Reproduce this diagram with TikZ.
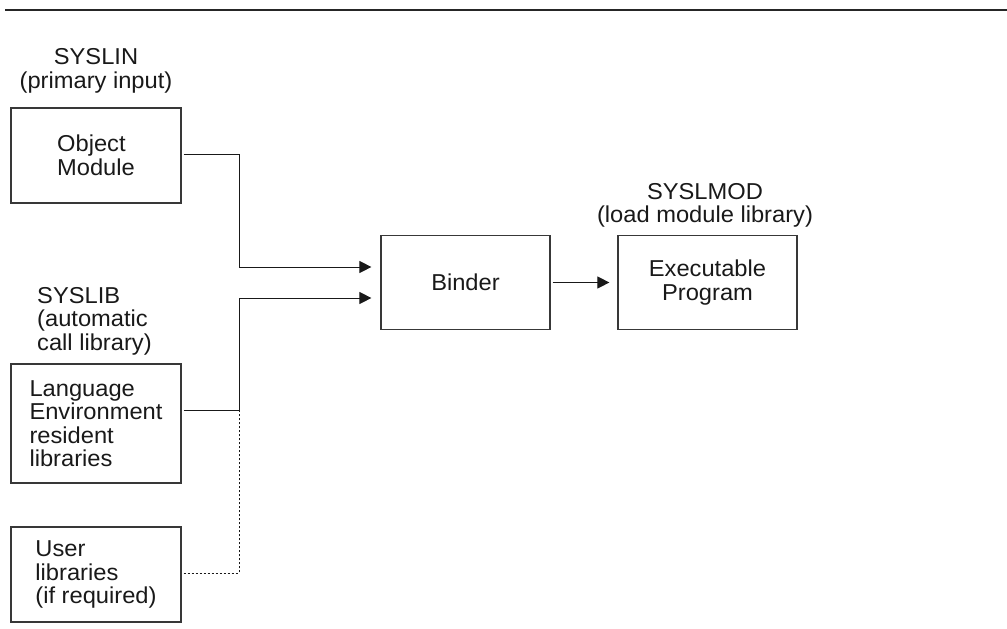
\documentclass[tikz,border=0pt]{standalone}
\usepackage{fontspec}
\setmainfont{Liberation Sans}[FakeStretch=1.03]
\usetikzlibrary{arrows.meta}

\begin{document}
\begin{tikzpicture}[x=1pt,y=-1pt,
  box/.style={draw=black!78, line width=1.2pt, inner sep=0pt},
  lbl/.style={inner sep=0pt, text=black!90, font=\fontsize{23}{23.5}\selectfont},
  wire/.style={line width=1pt, black!90},
  arr/.style={wire, -{Triangle[length=12pt,width=12pt]}},
  dots/.style={line width=0.9pt, black!90, dash pattern=on 2pt off 2pt}]
\useasboundingbox (0,0) rectangle (1007,629);

% rule across the top
\draw[line width=2pt, black!85] (5,10) -- (1007,10);

% boxes
\node[box, lbl, align=left, minimum width=170pt, minimum height=95pt] (obj) at (96,155.5) {Object\\Module};
\node[box, lbl, align=left, minimum width=170pt, minimum height=119pt] (lang) at (96,423.5) {Language\\Environment\\resident\\libraries};
\node[box, lbl, align=left, minimum width=170pt, minimum height=95pt] (user) at (96,574.5) {User\\libraries\\(if required)};
\node[box, lbl, minimum width=169pt, minimum height=94pt] (binder) at (465.5,282.5) {Binder};
\node[box, lbl, align=center, minimum width=179pt, minimum height=94pt] (exec) at (707.5,282.5) {Executable\\Program};

% captions (base anchor sits on the last line)
\node[lbl, align=center, anchor=base] (syslin) at (96,88) {SYSLIN\\(primary input)};
\node[lbl, align=left, anchor=base west] (syslib) at (37,350) {SYSLIB\\(automatic\\call library)};
\node[lbl, align=center, anchor=base] (syslmod) at (705,222.5) {SYSLMOD\\(load module library)};

% junction points
\coordinate (j1) at (239,154);
\coordinate (j2) at (239,410);
\coordinate (j3) at (239,573);
\coordinate (b1) at ([yshift=15.5pt]binder.west);
\coordinate (b2) at ([yshift=-15.5pt]binder.west);

% connectors
\draw[arr, shorten <=2pt, shorten >=9pt] (obj.east |- j1) -- (j1) -- (j1 |- b1) -- (b1);
\draw[wire, shorten <=2pt] (lang.east |- j2) -- (j2);
\draw[arr, shorten >=9pt] (j2) -- (j2 |- b2) -- (b2);
\draw[dots, shorten <=2pt] (user.east |- j3) -- (j3) -- (j2);
\draw[arr, shorten <=2pt, shorten >=8pt] (binder.east) -- (exec.west);
\end{tikzpicture}
\end{document}
